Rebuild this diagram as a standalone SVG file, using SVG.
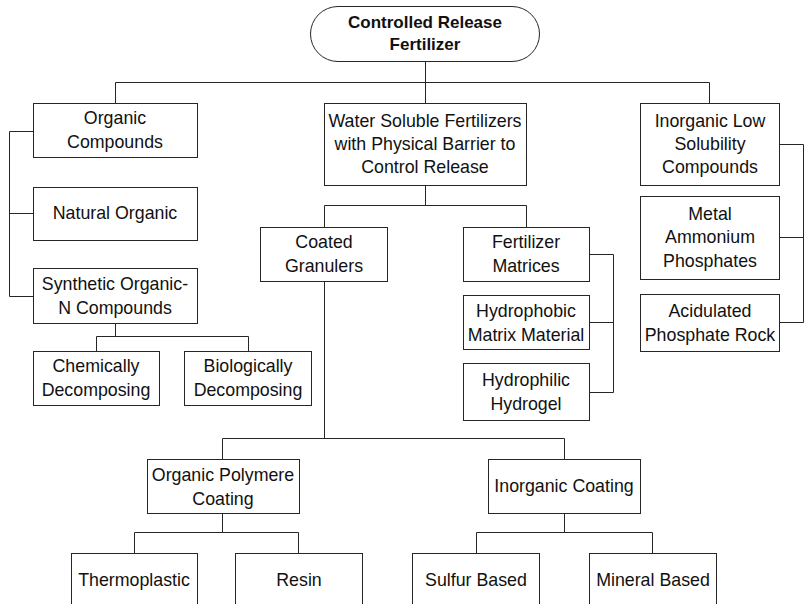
<svg xmlns="http://www.w3.org/2000/svg" width="804" height="604" viewBox="0 0 804 604">
<style>
.box{fill:#fff;stroke:#262626;stroke-width:1}
.t{font-family:"Liberation Sans",Arial,sans-serif;font-size:17.8px;fill:#111;text-anchor:middle}
.tb{font-family:"Liberation Sans",Arial,sans-serif;font-size:17px;font-weight:bold;fill:#111;text-anchor:middle}
.c{fill:none;stroke:#262626;stroke-width:1}
</style>
<rect width="804" height="604" fill="#fff"/>
<g id="connectors" class="c">
<path d="M425.5 61V103.5M115.5 82.5H709.5M115.5 82.5V103.5M709.5 82.5V103.5"/>
<path d="M9.5 131.5V296.5M9.5 131.5H33.5M9.5 213.5H33.5M9.5 296.5H33.5"/>
<path d="M115.5 323.5V336.5M96.5 336.5H248.5M96.5 336.5V351.5M248.5 336.5V351.5"/>
<path d="M425.5 185.5V205.5M324.5 205.5H526.5M324.5 205.5V227.5M526.5 205.5V227.5"/>
<path d="M589.5 254.5H613.5V392.5H589.5M589.5 322.5H613.5"/>
<path d="M779.5 144.5H803.5V322.5H779.5M779.5 237.5H803.5"/>
<path d="M324.5 281.5V438.5M222.5 438.5H564.5M222.5 438.5V459.5M564.5 438.5V459.5"/>
<path d="M222.5 513.5V532.5M134.5 532.5H298.5M134.5 532.5V553.5M298.5 532.5V553.5"/>
<path d="M564.5 513.5V532.5M476.5 532.5H652.5M476.5 532.5V553.5M652.5 532.5V553.5"/>
</g>
<g id="root"><rect class="box" x="310.5" y="6.5" width="229" height="55" rx="27.5" ry="27.5"/><text class="tb" x="425" y="28">Controlled Release</text><text class="tb" x="425" y="50">Fertilizer</text></g>
<g id="organic"><rect class="box" x="33.5" y="103.5" width="164" height="54"/><text class="t" x="115" y="124">Organic</text><text class="t" x="115" y="148">Compounds</text></g>
<g id="water"><rect class="box" x="324.5" y="103.5" width="202" height="82"/><text class="t" x="425" y="127">Water Soluble Fertilizers</text><text class="t" x="425" y="150">with Physical Barrier to</text><text class="t" x="425" y="173">Control Release</text></g>
<g id="inorganiclow"><rect class="box" x="640.5" y="103.5" width="139" height="82"/><text class="t" x="710" y="127">Inorganic Low</text><text class="t" x="710" y="150">Solubility</text><text class="t" x="710" y="173">Compounds</text></g>
<g id="natural"><rect class="box" x="33.5" y="187.5" width="164" height="53"/><text class="t" x="115" y="219">Natural Organic</text></g>
<g id="synthetic"><rect class="box" x="33.5" y="268.5" width="164" height="55"/><text class="t" x="115" y="290">Synthetic Organic-</text><text class="t" x="115" y="314">N Compounds</text></g>
<g id="chemically"><rect class="box" x="33.5" y="351.5" width="126" height="54"/><text class="t" x="96" y="372">Chemically</text><text class="t" x="96" y="396">Decomposing</text></g>
<g id="biologically"><rect class="box" x="184.5" y="351.5" width="127" height="54"/><text class="t" x="248" y="372">Biologically</text><text class="t" x="248" y="396">Decomposing</text></g>
<g id="coated"><rect class="box" x="260.5" y="227.5" width="127" height="54"/><text class="t" x="324" y="248">Coated</text><text class="t" x="324" y="272">Granulers</text></g>
<g id="matrices"><rect class="box" x="463.5" y="227.5" width="126" height="54"/><text class="t" x="526" y="248">Fertilizer</text><text class="t" x="526" y="272">Matrices</text></g>
<g id="hydrophobic"><rect class="box" x="463.5" y="295.5" width="126" height="54"/><text class="t" x="526" y="317">Hydrophobic</text><text class="t" x="526" y="341">Matrix Material</text></g>
<g id="hydrophilic"><rect class="box" x="463.5" y="363.5" width="126" height="57"/><text class="t" x="526" y="386">Hydrophilic</text><text class="t" x="526" y="410">Hydrogel</text></g>
<g id="metal"><rect class="box" x="640.5" y="196.5" width="139" height="83"/><text class="t" x="710" y="220">Metal</text><text class="t" x="710" y="243">Ammonium</text><text class="t" x="710" y="267">Phosphates</text></g>
<g id="acidulated"><rect class="box" x="640.5" y="294.5" width="139" height="57"/><text class="t" x="710" y="317">Acidulated</text><text class="t" x="710" y="341">Phosphate Rock</text></g>
<g id="polymere"><rect class="box" x="147.5" y="459.5" width="152" height="54"/><text class="t" x="223" y="481">Organic Polymere</text><text class="t" x="223" y="505">Coating</text></g>
<g id="inorganiccoating"><rect class="box" x="488.5" y="459.5" width="152" height="54"/><text class="t" x="564" y="492">Inorganic Coating</text></g>
<g id="thermoplastic"><rect class="box" x="71.5" y="553.5" width="126" height="60"/><text class="t" x="134" y="586">Thermoplastic</text></g>
<g id="resin"><rect class="box" x="235.5" y="553.5" width="127" height="60"/><text class="t" x="299" y="586">Resin</text></g>
<g id="sulfur"><rect class="box" x="412.5" y="553.5" width="127" height="60"/><text class="t" x="476" y="586">Sulfur Based</text></g>
<g id="mineral"><rect class="box" x="589.5" y="553.5" width="127" height="60"/><text class="t" x="653" y="586">Mineral Based</text></g>
</svg>
